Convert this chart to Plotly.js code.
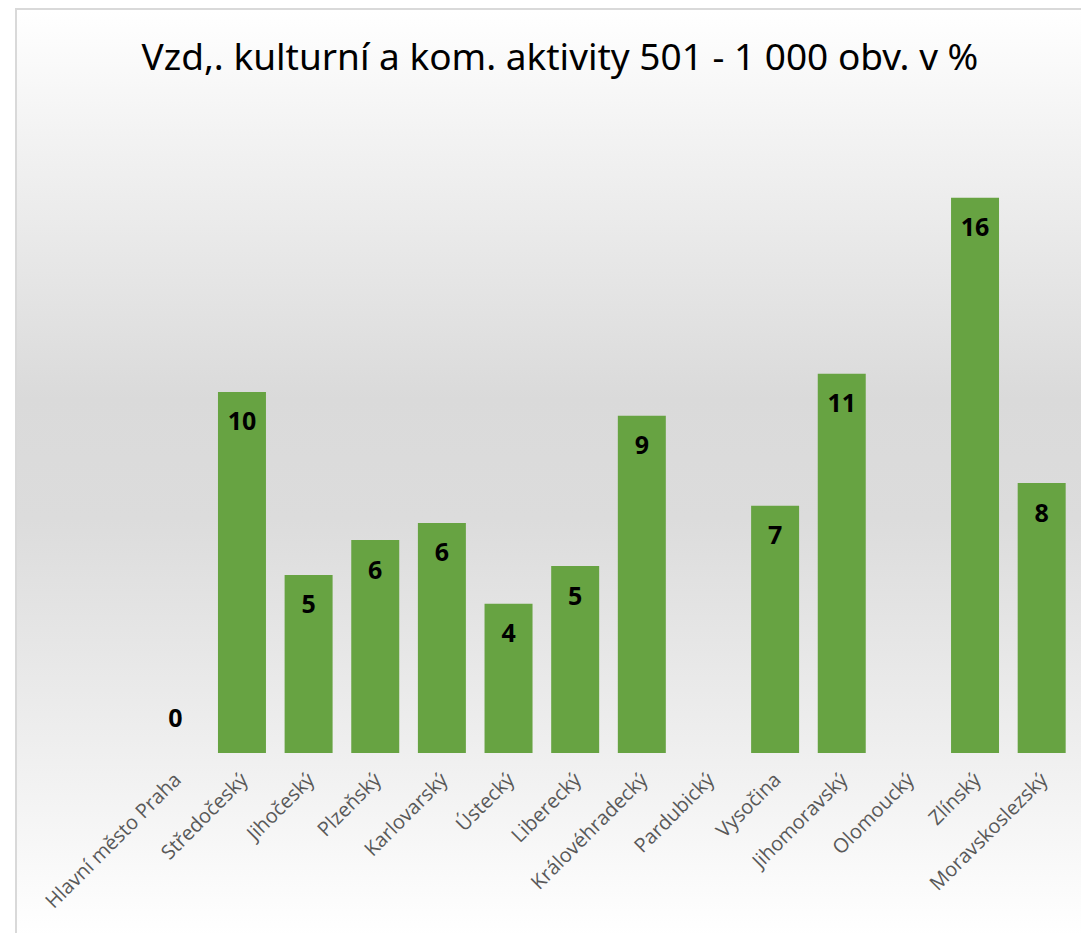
<!DOCTYPE html>
<html>
<head>
<meta charset="utf-8">
<script src="https://cdn.plot.ly/plotly-3.0.1.min.js"></script>
<style>
  html, body { margin: 0; padding: 0; background: #ffffff; }
  #frame {
    position: absolute; left: 15px; top: 8px; width: 1080px; height: 930px;
    border: 2px solid #d9d9d9; box-sizing: border-box;
    background: linear-gradient(to bottom, #ffffff 0%, #f4f4f4 12%, #dadada 42%, #dcdcdc 55%, #efefef 80%, #ffffff 100%);
  }
  #graph { position: absolute; left: 0; top: 0; width: 1081px; height: 933px; }
</style>
</head>
<body>
<div id="frame"></div>
<div id="graph"></div>
<script>
// regions (kraje) and their share in %
var regions = ['Hlavní město Praha', 'Středočeský', 'Jihočeský', 'Plzeňský', 'Karlovarský',
               'Ústecký', 'Liberecký', 'Královéhradecký', 'Pardubický', 'Vysočina',
               'Jihomoravský', 'Olomoucký', 'Zlínský', 'Moravskoslezský'];
var shares = [0, 10.14, 5.0, 5.98, 6.46, 4.19, 5.25, 9.47, null, 6.94, 10.65, null, 15.59, 7.58];

// zero value label sits above the axis, others just under the bar top
var labelPos = shares.map(function (v) { return v === 0 ? 'top center' : 'bottom center'; });

var bars = {
    type: 'bar',
    x: regions,
    y: shares,
    marker: { color: '#67a342' },
    hoverinfo: 'x+y'
};

// data labels as a text layer on the same axes
var labels = {
    type: 'scatter',
    mode: 'markers+text',
    x: regions,
    y: shares,
    marker: { size: 30, color: 'rgba(0,0,0,0)' },
    texttemplate: '%{y:.0f}',
    textposition: labelPos,
    cliponaxis: false,
    textfont: { family: 'Open Sans, DejaVu Sans', size: 25, color: '#000000', weight: 'bold' },
    hoverinfo: 'skip'
};

var layout = {
    width: 1081,
    height: 933,
    paper_bgcolor: 'rgba(0,0,0,0)',
    plot_bgcolor: 'rgba(0,0,0,0)',
    margin: { l: 142, r: 6, t: 112, b: 180 },
    bargap: 0.28,
    showlegend: false,
    title: {
        text: 'Vzd,. kulturní a kom. aktivity 501 - 1 000 obv. v %',
        font: { family: 'Noto Sans, sans-serif', size: 37, color: '#000000' },
        x: 0.518, xref: 'container', xanchor: 'center',
        y: 0.939, yref: 'container', yanchor: 'middle'
    },
    xaxis: {
        type: 'category',
        range: [-0.5, regions.length - 0.5],
        tickangle: -45,
        tickfont: { family: 'Open Sans, DejaVu Sans', size: 20, color: '#595959' },
        ticklabelstandoff: 10,
        showgrid: false,
        showline: false,
        zeroline: false,
        ticks: ''
    },
    yaxis: {
        range: [0, 18],
        visible: false,
        showgrid: false,
        zeroline: false
    }
};

Plotly.newPlot('graph', [bars, labels], layout, { displayModeBar: false });
</script>
</body>
</html>
